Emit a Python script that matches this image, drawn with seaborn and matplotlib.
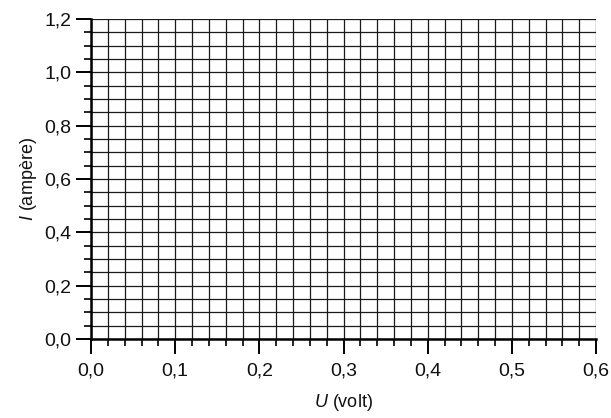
import matplotlib
matplotlib.use("Agg")
import matplotlib.pyplot as plt
import seaborn as sns
import numpy as np
from matplotlib.ticker import MultipleLocator, FuncFormatter

x_ticks = [0.0, 0.1, 0.2, 0.3, 0.4, 0.5, 0.6]
y_ticks = [0.0, 0.2, 0.4, 0.6, 0.8, 1.0, 1.2]
x_minor_step = 0.02
y_minor_step = 0.05
x_label_italic = "U"
x_label_rest = " (volt)"
y_label_italic = "I"
y_label_rest = " (ampère)"

sns.set_theme(style="white")
plt.rcParams['font.family'] = ['Liberation Sans', 'DejaVu Sans']
plt.rcParams['mathtext.fontset'] = 'custom'
plt.rcParams['mathtext.it'] = 'Liberation Sans:italic'
plt.rcParams['mathtext.rm'] = 'Liberation Sans'

fig = plt.figure(figsize=(6.11, 4.18), dpi=100)
ax = fig.add_axes([91/611, 1-339/418, (596-91)/611, (339-19)/418])

ax.set_xlim(x_ticks[0], x_ticks[-1])
ax.set_ylim(y_ticks[0], y_ticks[-1])
ax.set_xticks(x_ticks)
ax.set_yticks(y_ticks)
ax.xaxis.set_minor_locator(MultipleLocator(x_minor_step))
ax.yaxis.set_minor_locator(MultipleLocator(y_minor_step))
fmt = FuncFormatter(lambda v, p: f"{v:.1f}".replace(".", ","))
ax.xaxis.set_major_formatter(fmt)
ax.yaxis.set_major_formatter(fmt)

ax.grid(True, which='both', color='#1a1a1a', linewidth=0.9)
ax.set_axisbelow(True)

for s in ['top', 'right']:
    ax.spines[s].set_visible(False)
for s in ['left', 'bottom']:
    ax.spines[s].set_color('black')
    ax.spines[s].set_linewidth(1.8)

ax.tick_params(which='major', direction='out', length=11, width=1.4, color='black',
               labelsize=14, labelcolor='#111111', bottom=True, left=True)
ax.tick_params(which='minor', direction='out', length=5, width=1.2, color='black',
               bottom=True, left=True)
ax.tick_params(axis='x', which='major', pad=6)
ax.tick_params(axis='y', which='major', pad=3)

ax.set_xlabel(f"$\\mathit{{{x_label_italic}}}$" + x_label_rest, fontsize=13, labelpad=9, color='#111111')
ax.set_ylabel(f"$\\mathit{{{y_label_italic}}}$" + y_label_rest, fontsize=13, labelpad=4, color='#111111')

fig.savefig("out.png", dpi=100)
